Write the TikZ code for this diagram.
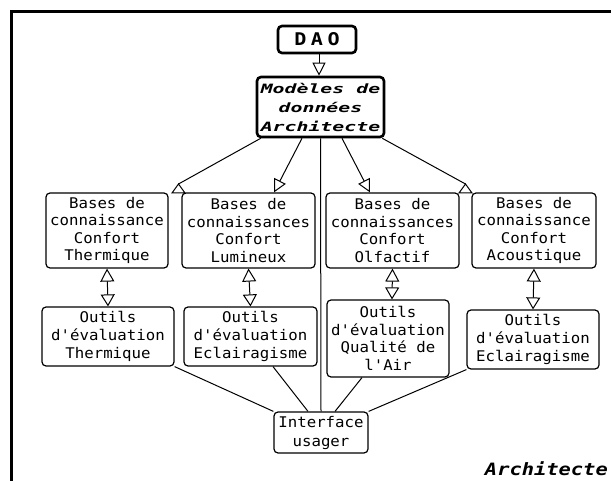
\documentclass[tikz,border=0pt]{standalone}
\usepackage{fontspec}
\usetikzlibrary{arrows.meta}
\newfontfamily\pixfont{DejaVu Sans Mono}[FakeStretch=1.07]
\newfontfamily\pixwide{DejaVu Sans Mono}[FakeStretch=1.55]
\newfontfamily\pixarch{DejaVu Sans Mono}[FakeStretch=1.2]
\newfontfamily\pixdao{DejaVu Sans Mono}[FakeStretch=1.15]
\begin{document}
\begin{tikzpicture}[x=1pt,y=-1pt,
  box/.style={draw, line width=1.2pt, rounded corners=4pt, align=center, inner sep=0pt,
    font=\pixfont\fontsize{14.7}{17.6}\selectfont},
  thickbox/.style={draw, line width=2.6pt, rounded corners=4pt, align=center, inner sep=0pt},
  ln/.style={line width=1pt},
  tipline/.style={ln, -{Triangle[open, length=13pt, width=13pt]}},
  dblline/.style={ln, {Triangle[open, length=13pt, width=14pt]}-{Triangle[open, length=12pt, width=14pt]}}
]
\useasboundingbox (0,0) rectangle (611,481);
\fill[white] (0,0) rectangle (611,481);
% frame
\draw[line width=3pt] (11.5,481) -- (11.5,11.5) -- (611,11.5);

% nodes
\node[thickbox, minimum width=78pt, minimum height=27pt,
  font=\pixdao\bfseries\fontsize{17.5}{19}\selectfont] (dao) at (317,39.5) {D\hspace{4.5pt}A\hspace{4.5pt}O};
\node[thickbox, minimum width=127pt, minimum height=60pt,
  font=\pixwide\bfseries\itshape\fontsize{12.8}{19}\selectfont] (mod) at (320.5,107) {Mod\`eles de\\donn\'ees\\Architecte};

\node[box, minimum width=122pt, minimum height=75pt] (b1) at (107,230.5) {Bases de\\connaissance\\Confort\\Thermique};
\node[box, minimum width=133pt, minimum height=75pt] (b2) at (248.5,230.5) {Bases de\\connaissances\\Confort\\Lumineux};
\node[box, minimum width=133pt, minimum height=75pt] (b3) at (392.5,230.5) {Bases de\\connaissances\\Confort\\Olfactif};
\node[box, minimum width=124pt, minimum height=75pt] (b4) at (534,230.5) {Bases de\\connaissance\\Confort\\Acoustique};

\node[box, minimum width=132pt, minimum height=59pt] (o1) at (108,336.5) {Outils\\d'\'evaluation\\Thermique};
\node[box, minimum width=133pt, minimum height=59pt] (o2) at (250.5,336.5) {Outils\\d'\'evaluation\\Eclairagisme};
\node[box, minimum width=122pt, minimum height=77pt] (o3) at (388,338.5) {Outils\\d'\'evaluation\\Qualit\'e de\\l'Air};
\node[box, minimum width=132pt, minimum height=59pt] (o4) at (533,339.5) {Outils\\d'\'evaluation\\Eclairagisme};

\node[box, minimum width=94pt, minimum height=41pt,
  font=\pixfont\fontsize{14.7}{19}\selectfont] (iface) at (321,432.5) {Interface\\usager};

\node[anchor=base east, inner sep=0pt,
  font=\pixarch\bfseries\itshape\fontsize{17}{20}\selectfont] (arch) at (608,475) {Architecte};

% connectors
\draw[tipline] ([xshift=2pt]dao.south) -- ([xshift=-1.5pt]mod.north);

\coordinate (a1) at (178.5,184);
\coordinate (a4) at (465.5,184);
\draw[ln] ([xshift=5pt]mod.south west) -- (a1);
\draw[ln, fill=white] (a1) -- ++(-6.5,9) -- ++(13,0) -- cycle;
\draw[ln] ([xshift=-3pt]mod.south east) -- (a4);
\draw[ln, fill=white] (a4) -- ++(-6.5,9) -- ++(13,0) -- cycle;
\draw[tipline] ([xshift=-18.5pt]mod.south) -- ([xshift=25.5pt]b2.north);
\draw[tipline] ([xshift=21.5pt]mod.south) -- ([xshift=-22.5pt]b3.north);
\draw[ln] (mod.south) -- (iface.north);

\draw[dblline] (b1.south) -- (o1.north);
\draw[dblline] (b2.south) -- (o2.north);
\draw[dblline] (b3.south) -- ([xshift=4pt]o3.north);
\draw[dblline] (b4.south) -- (o4.north);

\draw[ln] (o1.south east) -- (iface.north west);
\draw[ln] ([xshift=22.5pt]o2.south) -- ([xshift=-13pt]iface.north);
\draw[ln] ([xshift=-26pt]o3.south) -- ([xshift=14pt]iface.north);
\draw[ln] (o4.south west) -- (iface.north east);
\end{tikzpicture}
\end{document}
